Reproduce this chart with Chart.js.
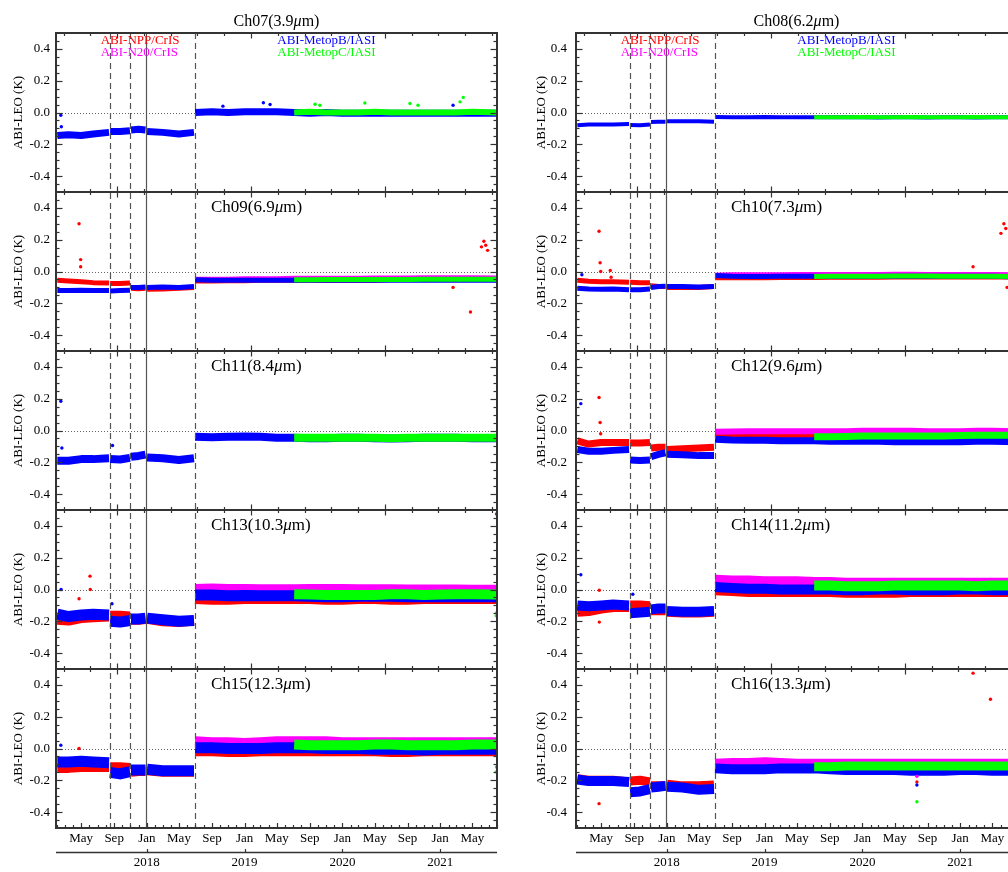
<!DOCTYPE html>
<html><head><meta charset="utf-8">
<script src="https://cdn.jsdelivr.net/npm/chart.js@4.4.1/dist/chart.umd.min.js"></script>
<style>
html,body{margin:0;padding:0;background:#fff;overflow:hidden;width:1008px;height:872px;}
canvas{position:absolute;top:0;}
#c0{left:0;}
#c1{left:520px;}
</style></head><body>
<canvas id="c0" width="510" height="872"></canvas>
<canvas id="c1" width="510" height="872"></canvas>
<script>
// ---------------- DATA ----------------
const AXIS_START = '2017-01-27', AXIS_END = '2021-08-01';
const DATES = ['2017-02-01','2017-03-15','2017-05-01','2017-06-15','2017-08-13','2017-08-15','2017-08-17','2017-09-23','2017-10-30','2017-11-01','2017-11-03','2017-12-01','2017-12-27','2017-12-30','2018-01-02','2018-03-01','2018-05-01','2018-06-26','2018-06-28','2018-06-30','2018-09-01','2018-11-01','2019-01-01','2019-03-01','2019-05-01','2019-07-05','2019-09-01','2019-11-01','2020-01-01','2020-03-01','2020-05-01','2020-07-01','2020-09-01','2020-11-01','2021-01-01','2021-03-01','2021-05-01','2021-07-31'];
const M_START = 19;   // ABI-N20/CrIS starts at DATES[19]
const G_START = 25;   // ABI-MetopC/IASI starts at DATES[25]
const EVENTS = [['2017-08-15','dash'],['2017-11-01','dash'],['2017-12-30','solid'],['2018-06-28','dash']];
const TOP_TICK_ANCHOR = '2017-09-12';
const MONTH_NAMES = ['Jan','Feb','Mar','Apr','May','Jun','Jul','Aug','Sep','Oct','Nov','Dec'];
const LABELED_MONTHS = ['May','Sep','Jan'];
const YEAR_LABELS = ['2018','2019','2020','2021'];
const Y_TICKS = [-0.4,-0.2,0.0,0.2,0.4];
const LEGEND = [['ABI-NPP/CrIS','R'],['ABI-N20/CrIS','M'],['ABI-MetopB/IASI','B'],['ABI-MetopC/IASI','G']];

// Ch07 (3.9um)
const CH07_B = [-0.145,-0.14,-0.145,-0.135,-0.125,null,-0.12,-0.12,-0.115,null,-0.11,-0.105,-0.11,null,-0.12,-0.125,-0.135,-0.125,null,0.0,0.005,0.0,0.005,0.005,0.005,0.0,-0.005,0.0,-0.005,-0.005,-0.005,-0.005,-0.005,-0.005,-0.005,-0.005,-0.005,-0.005];
const CH07_G = [0.0,0.005,0.0,0.0,0.0,0.005,0.0,0.0,0.0,0.0,0.0,0.005,0.0];
const CH07_OUT_B = [['2017-02-14',-0.017],['2017-02-16',-0.09],['2018-10-12',0.04],['2019-03-12',0.061],['2019-04-06',0.05],['2021-02-18',0.046]];
const CH07_OUT_G = [['2019-09-21',0.052],['2019-10-09',0.046],['2020-03-25',0.06],['2020-09-10',0.057],['2020-10-10',0.046],['2021-03-16',0.067],['2021-03-28',0.095]];

// Ch08 (6.2um)
const CH08_B = [-0.08,-0.075,-0.075,-0.075,-0.072,null,-0.078,-0.08,-0.075,null,-0.06,-0.058,-0.058,null,-0.055,-0.055,-0.055,-0.058,null,-0.028,-0.03,-0.03,-0.028,-0.03,-0.03,-0.03,-0.03,-0.03,-0.03,-0.032,-0.03,-0.03,-0.032,-0.03,-0.03,-0.032,-0.03,-0.03];
const CH08_G = [-0.03,-0.03,-0.03,-0.028,-0.03,-0.03,-0.028,-0.03,-0.03,-0.03,-0.028,-0.03,-0.03];

// Ch09 (6.9um)
const CH09_R = [-0.055,-0.06,-0.065,-0.07,-0.072,null,-0.075,-0.075,-0.072,null,-0.105,-0.108,-0.105,null,-0.112,-0.11,-0.105,-0.1,null,-0.06,-0.06,-0.058,-0.058,-0.055,-0.055,-0.055,-0.055,-0.055,-0.055,-0.055,-0.055,-0.05,-0.05,-0.05,-0.05,-0.05,-0.05,-0.05];
const CH09_M = [-0.045,-0.045,-0.045,-0.042,-0.042,-0.042,-0.04,-0.04,-0.04,-0.04,-0.04,-0.038,-0.038,-0.038,-0.036,-0.036,-0.036,-0.036,-0.038];
const CH09_B = [-0.12,-0.12,-0.118,-0.12,-0.12,null,-0.122,-0.12,-0.118,null,-0.1,-0.1,-0.098,null,-0.1,-0.098,-0.1,-0.095,null,-0.052,-0.055,-0.055,-0.055,-0.055,-0.055,-0.055,-0.055,-0.055,-0.055,-0.055,-0.055,-0.055,-0.055,-0.055,-0.055,-0.055,-0.055,-0.055];
const CH09_G = [-0.052,-0.052,-0.05,-0.05,-0.05,-0.05,-0.05,-0.05,-0.048,-0.048,-0.048,-0.048,-0.048];
const CH09_OUT_R = [['2017-04-23',0.30],['2017-04-29',0.075],['2017-04-29',0.03],['2021-02-18',-0.10],['2021-04-24',-0.255],['2021-06-04',0.155],['2021-06-13',0.19],['2021-06-20',0.165],['2021-06-27',0.133]];

// Ch10 (7.3um)
const CH10_R = [-0.055,-0.062,-0.065,-0.065,-0.068,null,-0.068,-0.07,-0.07,null,-0.09,-0.095,-0.095,null,-0.1,-0.1,-0.1,-0.095,null,-0.04,-0.038,-0.04,-0.04,-0.038,-0.038,-0.038,-0.036,-0.036,-0.036,-0.036,-0.035,-0.035,-0.035,-0.035,-0.035,-0.035,-0.035,-0.035];
const CH10_M = [-0.02,-0.018,-0.018,-0.018,-0.018,-0.016,-0.016,-0.016,-0.016,-0.015,-0.015,-0.014,-0.014,-0.015,-0.015,-0.015,-0.016,-0.016,-0.018];
const CH10_B = [-0.105,-0.11,-0.112,-0.11,-0.115,null,-0.115,-0.115,-0.11,null,-0.1,-0.095,-0.092,null,-0.095,-0.095,-0.098,-0.095,null,-0.025,-0.03,-0.032,-0.032,-0.03,-0.03,-0.03,-0.032,-0.032,-0.032,-0.03,-0.03,-0.03,-0.03,-0.03,-0.03,-0.03,-0.03,-0.035];
const CH10_G = [-0.032,-0.03,-0.03,-0.03,-0.03,-0.028,-0.028,-0.028,-0.03,-0.03,-0.03,-0.03,-0.032];
const CH10_OUT_R = [['2017-04-23',0.253],['2017-04-27',0.055],['2017-04-29',0.0],['2017-06-04',0.006],['2017-06-07',-0.036],['2021-02-18',0.03],['2021-06-02',0.24],['2021-06-13',0.30],['2021-06-20',0.27],['2021-06-25',-0.10]];
const CH10_OUT_B = [['2017-02-18',-0.02]];

// Ch11 (8.4um)
const CH11_B = [-0.19,-0.19,-0.18,-0.18,-0.175,null,-0.18,-0.182,-0.172,null,-0.165,-0.16,-0.152,null,-0.17,-0.175,-0.185,-0.175,null,-0.04,-0.042,-0.04,-0.038,-0.04,-0.045,-0.045,-0.048,-0.048,-0.045,-0.045,-0.048,-0.05,-0.048,-0.045,-0.045,-0.045,-0.048,-0.048];
const CH11_G = [-0.045,-0.045,-0.045,-0.045,-0.045,-0.045,-0.048,-0.045,-0.045,-0.045,-0.045,-0.045,-0.045];
const CH11_OUT_B = [['2017-02-14',0.184],['2017-02-18',-0.11],['2017-08-26',-0.094]];

// Ch12 (9.6um)
const CH12_R = [-0.065,-0.085,-0.075,-0.075,-0.075,null,-0.078,-0.078,-0.075,null,-0.11,-0.105,-0.105,null,-0.12,-0.115,-0.11,-0.105,null,-0.02,-0.025,-0.028,-0.028,-0.03,-0.03,-0.03,-0.03,-0.03,-0.03,-0.03,-0.03,-0.03,-0.03,-0.03,-0.03,-0.03,-0.03,-0.03];
const CH12_M = [-0.008,-0.006,-0.005,-0.005,-0.004,-0.004,-0.004,-0.004,-0.004,-0.002,-0.002,-0.002,-0.002,-0.004,-0.004,-0.004,-0.002,-0.002,-0.004];
const CH12_B = [-0.12,-0.13,-0.13,-0.125,-0.12,null,-0.185,-0.188,-0.185,null,-0.165,-0.15,-0.14,null,-0.15,-0.152,-0.158,-0.158,null,-0.055,-0.06,-0.062,-0.062,-0.065,-0.065,-0.065,-0.068,-0.068,-0.068,-0.068,-0.07,-0.07,-0.07,-0.07,-0.07,-0.068,-0.068,-0.07];
const CH12_G = [-0.04,-0.04,-0.038,-0.035,-0.035,-0.035,-0.035,-0.035,-0.035,-0.032,-0.03,-0.03,-0.03];
const CH12_OUT_R = [['2017-04-23',0.208],['2017-04-27',0.05],['2017-04-29',-0.02]];
const CH12_OUT_B = [['2017-02-14',0.169]];

// Ch13 (10.3um)
const CH13_R = [-0.19,-0.195,-0.18,-0.175,-0.17,null,-0.165,-0.165,-0.17,null,-0.19,-0.19,-0.185,null,-0.185,-0.2,-0.205,-0.195,null,-0.06,-0.065,-0.065,-0.06,-0.06,-0.06,-0.06,-0.06,-0.065,-0.065,-0.06,-0.06,-0.065,-0.065,-0.06,-0.06,-0.06,-0.06,-0.06];
const CH13_M = [0.01,0.012,0.01,0.01,0.008,0.008,0.008,0.01,0.01,0.01,0.008,0.008,0.008,0.006,0.006,0.006,0.006,0.005,0.005];
const CH13_B = [-0.155,-0.17,-0.16,-0.155,-0.16,null,-0.2,-0.205,-0.195,null,-0.185,-0.185,-0.18,null,-0.18,-0.19,-0.2,-0.195,null,-0.035,-0.035,-0.04,-0.038,-0.04,-0.04,-0.04,-0.042,-0.045,-0.045,-0.042,-0.042,-0.042,-0.045,-0.045,-0.045,-0.045,-0.045,-0.045];
const CH13_G = [-0.03,-0.032,-0.035,-0.035,-0.035,-0.035,-0.03,-0.03,-0.035,-0.032,-0.03,-0.03,-0.032];
const CH13_OUT_R = [['2017-06-03',0.084],['2017-06-04',0.0],['2017-04-23',-0.058],['2021-07-30',0.475]];
const CH13_OUT_B = [['2017-02-15',0.0],['2017-08-24',-0.09]];
const CH13_OUT_G = [['2021-07-30',-0.147],['2021-07-29',-0.165]];

// Ch14 (11.2um)
const CH14_R = [-0.14,-0.135,-0.12,-0.11,-0.11,null,-0.1,-0.1,-0.105,null,-0.13,-0.13,-0.13,null,-0.14,-0.145,-0.145,-0.14,null,-0.005,-0.01,-0.015,-0.015,-0.015,-0.015,-0.015,-0.015,-0.02,-0.02,-0.02,-0.02,-0.015,-0.015,-0.015,-0.015,-0.015,-0.015,-0.015];
const CH14_M = [0.065,0.06,0.06,0.055,0.055,0.055,0.05,0.05,0.045,0.045,0.045,0.045,0.045,0.045,0.045,0.045,0.045,0.045,0.045];
const CH14_B = [-0.1,-0.105,-0.1,-0.095,-0.1,null,-0.15,-0.145,-0.14,null,-0.125,-0.12,-0.12,null,-0.135,-0.14,-0.14,-0.135,null,0.015,0.01,0.005,0.005,0.0,0.0,0.0,0.0,-0.005,-0.005,0.0,0.0,-0.005,-0.005,-0.005,0.0,0.0,-0.005,-0.005];
const CH14_G = [0.025,0.025,0.02,0.02,0.02,0.025,0.025,0.025,0.025,0.025,0.02,0.025,0.025];
const CH14_OUT_R = [['2017-04-24',-0.005],['2017-04-24',-0.205]];
const CH14_OUT_B = [['2017-02-14',0.093],['2017-08-27',-0.03]];

// Ch15 (12.3um)
const CH15_R = [-0.125,-0.125,-0.12,-0.12,-0.12,null,-0.115,-0.115,-0.12,null,-0.15,-0.145,-0.145,null,-0.14,-0.15,-0.15,-0.15,null,-0.02,-0.02,-0.025,-0.025,-0.02,-0.02,-0.02,-0.02,-0.02,-0.02,-0.02,-0.02,-0.025,-0.025,-0.02,-0.02,-0.02,-0.02,-0.02];
const CH15_M = [0.045,0.04,0.04,0.035,0.04,0.045,0.045,0.045,0.045,0.04,0.04,0.04,0.04,0.04,0.04,0.04,0.04,0.04,0.04];
const CH15_B = [-0.085,-0.085,-0.08,-0.085,-0.09,null,-0.15,-0.16,-0.145,null,-0.135,-0.135,-0.135,null,-0.13,-0.14,-0.14,-0.14,null,0.005,0.005,0.0,0.0,0.0,0.005,0.005,0.005,0.0,0.0,0.0,-0.005,-0.005,-0.005,-0.01,-0.005,-0.005,-0.005,-0.005];
const CH15_G = [0.025,0.02,0.02,0.02,0.02,0.025,0.025,0.02,0.02,0.02,0.02,0.025,0.025];
const CH15_OUT_R = [['2017-04-23',0.0]];
const CH15_OUT_B = [['2017-02-14',0.02]];
const CH15_OUT_G = [['2021-07-30',-0.116],['2021-07-29',-0.148]];

// Ch16 (13.3um)
const CH16_R = [-0.19,-0.2,-0.2,-0.2,-0.21,null,-0.205,-0.2,-0.21,null,-0.235,-0.235,-0.235,null,-0.225,-0.235,-0.235,-0.23,null,-0.115,-0.12,-0.12,-0.12,-0.12,-0.12,-0.12,-0.12,-0.12,-0.12,-0.12,-0.12,-0.12,-0.12,-0.12,-0.12,-0.12,-0.12,-0.12];
const CH16_M = [-0.09,-0.085,-0.085,-0.08,-0.085,-0.09,-0.09,-0.09,-0.09,-0.09,-0.09,-0.09,-0.09,-0.09,-0.09,-0.09,-0.09,-0.09,-0.09];
const CH16_B = [-0.195,-0.205,-0.205,-0.205,-0.21,null,-0.275,-0.27,-0.255,null,-0.245,-0.24,-0.235,null,-0.24,-0.245,-0.26,-0.255,null,-0.125,-0.13,-0.13,-0.13,-0.125,-0.125,-0.125,-0.13,-0.135,-0.135,-0.135,-0.135,-0.14,-0.14,-0.14,-0.135,-0.135,-0.14,-0.14];
const CH16_G = [-0.115,-0.115,-0.11,-0.11,-0.11,-0.11,-0.11,-0.11,-0.11,-0.11,-0.11,-0.11,-0.11];
const CH16_OUT_R = [['2017-04-23',-0.347],['2021-02-18',0.474],['2021-04-24',0.31],['2020-07-23',-0.21]];
const CH16_OUT_M = [['2020-07-23',-0.175]];
const CH16_OUT_B = [['2020-07-23',-0.23]];
const CH16_OUT_G = [['2020-07-23',-0.335]];

// ---------------- PANELS (structure + style) ----------------
const COLUMNS = [
  [ {title:'Ch07(3.9μm)', B:CH07_B, G:CH07_G, oB:CH07_OUT_B, oG:CH07_OUT_G, w:{B:7,G:6}},
    {title:'Ch09(6.9μm)', R:CH09_R, M:CH09_M, B:CH09_B, G:CH09_G, oR:CH09_OUT_R, w:{R:5,M:4,B:5,G:5}},
    {title:'Ch11(8.4μm)', B:CH11_B, G:CH11_G, oB:CH11_OUT_B, w:{B:8,G:8}},
    {title:'Ch13(10.3μm)', R:CH13_R, M:CH13_M, B:CH13_B, G:CH13_G, oR:CH13_OUT_R, oB:CH13_OUT_B, oG:CH13_OUT_G, w:{R:10,M:8,B:11,G:10}},
    {title:'Ch15(12.3μm)', R:CH15_R, M:CH15_M, B:CH15_B, G:CH15_G, oR:CH15_OUT_R, oB:CH15_OUT_B, oG:CH15_OUT_G, w:{R:9,M:10,B:11,G:10}} ],
  [ {title:'Ch08(6.2μm)', B:CH08_B, G:CH08_G, w:{B:4,G:4}},
    {title:'Ch10(7.3μm)', R:CH10_R, M:CH10_M, B:CH10_B, G:CH10_G, oR:CH10_OUT_R, oB:CH10_OUT_B, w:{R:5,M:4,B:5,G:5}},
    {title:'Ch12(9.6μm)', R:CH12_R, M:CH12_M, B:CH12_B, G:CH12_G, oR:CH12_OUT_R, oB:CH12_OUT_B, w:{R:7,M:6,B:7,G:7}},
    {title:'Ch14(11.2μm)', R:CH14_R, M:CH14_M, B:CH14_B, G:CH14_G, oR:CH14_OUT_R, oB:CH14_OUT_B, w:{R:10,M:9,B:10,G:10}},
    {title:'Ch16(13.3μm)', R:CH16_R, M:CH16_M, B:CH16_B, G:CH16_G, oR:CH16_OUT_R, oM:CH16_OUT_M, oB:CH16_OUT_B, oG:CH16_OUT_G, w:{R:9,M:8,B:10,G:9}} ]
];

// ---------------- HELPERS ----------------
const SERIF = "'Liberation Serif','Times New Roman',serif";
const COLORS = {R:'#ff0000', M:'#ff00ff', B:'#0000ff', G:'#00ff00'};
const START = {R:0, B:0, M:M_START, G:G_START};
function yr(s){const [Y,M,D]=s.split('-').map(Number);const a=Date.UTC(Y,0,1),b=Date.UTC(Y+1,0,1);return Y+(Date.UTC(Y,M-1,D)-a)/(b-a);}
const XMIN = yr(AXIS_START), XMAX = yr(AXIS_END);
function pts(vals,start){return vals.map((v,i)=>({x:yr(DATES[start+i]),y:v}));}
function outPts(list){return list.map(([d,v])=>({x:yr(d),y:v}));}

// month ticks (first of each month) and year ticks
const MONTH_TICKS = [];
for(let y=2017;y<=2021;y++)for(let m=0;m<12;m++){
  const s=`${y}-${String(m+1).padStart(2,'0')}-01`; const v=yr(s);
  if(v>=XMIN&&v<=XMAX) MONTH_TICKS.push({value:v,label:LABELED_MONTHS.includes(MONTH_NAMES[m])?MONTH_NAMES[m]:''});
}
const YEAR_TICKS = YEAR_LABELS.map(l=>({value:yr(l+'-01-01'),label:l}));
const TOP_TICKS = [];
{const a=yr(TOP_TICK_ANCHOR); for(let k=-5;k<=20;k++){const v=a+k*100/365.25; if(v>XMIN&&v<XMAX) TOP_TICKS.push({value:v,major:k%5===0});}}

function line(ctx,x1,y1,x2,y2){ctx.beginPath();ctx.moveTo(x1,y1);ctx.lineTo(x2,y2);ctx.stroke();}
function drawTitle(ctx,text,x,y,size,align){
  const [a,b]=text.split('μ'); const f=`${size}px ${SERIF}`, fi=`italic ${size}px ${SERIF}`;
  ctx.font=f; const wa=ctx.measureText(a).width, wb=ctx.measureText(b).width;
  ctx.font=fi; const wm=ctx.measureText('μ').width;
  const x0 = align==='center' ? x-(wa+wm+wb)/2 : x;
  ctx.textAlign='left'; ctx.textBaseline='alphabetic'; ctx.fillStyle='#000';
  ctx.font=f; ctx.fillText(a,x0,y); ctx.font=fi; ctx.fillText('μ',x0+wa,y); ctx.font=f; ctx.fillText(b,x0+wa+wm,y);
}

function makeDeco(panels){
  return {
    id:'deco',
    beforeDatasetsDraw(chart){
      const ctx=chart.ctx, xs=chart.scales.x;
      ctx.save();
      ctx.strokeStyle='#666'; ctx.lineWidth=1; ctx.setLineDash([1,2]);
      panels.forEach((p,i)=>{const s=chart.scales['y'+i]; const y=Math.round(s.getPixelForValue(0))+0.5; line(ctx,xs.left,y,xs.right,y);});
      ctx.restore();
    },
    afterDatasetsDraw(chart){
      const ctx=chart.ctx, xs=chart.scales.x, n=panels.length;
      const ys=panels.map((p,i)=>chart.scales['y'+i]);
      const top=ys[0].top, bot=ys[n-1].bottom;
      ctx.save();
      // event lines
      EVENTS.forEach(([d,k])=>{
        const x=Math.round(xs.getPixelForValue(yr(d)))+0.5;
        ctx.strokeStyle='#555'; ctx.lineWidth=1.2; ctx.setLineDash(k==='dash'?[6,4]:[]);
        line(ctx,x,top,x,bot);
      });
      ctx.setLineDash([]);
      // ticks
      ctx.strokeStyle='#333'; ctx.lineWidth=1.2;
      ys.forEach((s,i)=>{
        const L=xs.left,R=xs.right,T=s.top,B=s.bottom;
        for(let k=-9;k<=9;k++){
          const y=Math.round(s.getPixelForValue(k*0.05))+0.5, len=(k%4===0)?6.5:3.5;
          line(ctx,L,y,L+len,y); line(ctx,R,y,R-len,y);
        }
        TOP_TICKS.forEach(t=>{const x=Math.round(xs.getPixelForValue(t.value))+0.5, len=t.major?5.5:3; line(ctx,x,T,x,T+len); if(i<n-1) line(ctx,x,B,x,B-len);});
        if(i===n-1) MONTH_TICKS.forEach(t=>{const x=Math.round(xs.getPixelForValue(t.value))+0.5, len=t.label?5:3; line(ctx,x,B,x,B-len);});
      });
      // borders
      ctx.lineWidth=2; ctx.strokeStyle='#333';
      ys.forEach(s=>{ctx.strokeRect(xs.left,s.top,xs.right-xs.left,s.bottom-s.top);});
      // year axis
      const x2=chart.scales.x2, yb=Math.round(x2.top)+0.5;
      ctx.lineWidth=1.5; line(ctx,xs.left,yb,xs.right,yb);
      ctx.lineWidth=1.2; YEAR_TICKS.forEach(t=>{const x=Math.round(xs.getPixelForValue(t.value))+0.5; line(ctx,x,yb,x,yb-3.5);});
      // titles
      drawTitle(ctx,panels[0].title,(xs.left+xs.right)/2,25.5,16,'center');
      for(let i=1;i<n;i++) drawTitle(ctx,panels[i].title,xs.left+155,ys[i].top+19.7,17,'left');
      // legend text
      ctx.font=`13px ${SERIF}`; ctx.textAlign='left'; ctx.textBaseline='alphabetic';
      const lx=[xs.left+44.7,xs.left+44.7,xs.left+221.3,xs.left+221.3], ly=[44.3,55.8,44.3,55.8];
      LEGEND.forEach(([t,k],j)=>{ctx.fillStyle=COLORS[k]; ctx.fillText(t,lx[j],ly[j]);});
      ctx.restore();
    }
  };
}

function makeColumn(id, panels, tickPad, titlePad){
  const datasets=[];
  panels.forEach((p,i)=>{
    const yid='y'+i;
    ['G','B','M','R'].forEach(k=>{ const o=p['o'+k]; if(o) datasets.push({data:outPts(o),yAxisID:yid,showLine:false,pointRadius:1.7,pointBorderWidth:0,pointBackgroundColor:COLORS[k]}); });
    ['G','B','M','R'].forEach(k=>{ if(p[k]) datasets.push({data:pts(p[k],START[k]),yAxisID:yid,showLine:true,spanGaps:false,borderColor:COLORS[k],borderWidth:p.w[k],borderCapStyle:'butt',borderJoinStyle:'round',pointRadius:0,pointHoverRadius:0,fill:false}); });
  });
  const font={family:SERIF,size:13};
  const scales={
    x:{type:'linear',position:'bottom',weight:0,min:XMIN,max:XMAX,grid:{display:false,drawTicks:false},border:{display:false},
       afterBuildTicks:s=>{s.ticks=MONTH_TICKS.map(t=>({value:t.value}));},
       afterFit:s=>{s.height=24;},
       ticks:{autoSkip:false,maxRotation:0,minRotation:0,padding:3,font,color:'#000',callback:(v)=>{const t=MONTH_TICKS.find(m=>Math.abs(m.value-v)<1e-6);return t?t.label:'';}}},
    x2:{type:'linear',axis:'x',position:'bottom',weight:1,min:XMIN,max:XMAX,grid:{display:false,drawTicks:false},border:{display:false},
       afterBuildTicks:s=>{s.ticks=YEAR_TICKS.map(t=>({value:t.value}));},
       afterFit:s=>{s.height=20;},
       ticks:{autoSkip:false,maxRotation:0,minRotation:0,padding:3,font,color:'#000',callback:(v)=>{const t=YEAR_TICKS.find(m=>Math.abs(m.value-v)<1e-6);return t?t.label:'';}}}
  };
  panels.forEach((p,i)=>{
    scales['y'+i]={type:'linear',axis:'y',position:'left',stack:'col',stackWeight:1,weight:10-i,min:-0.5,max:0.5,
      grid:{display:false,drawTicks:false},border:{display:false},
      afterBuildTicks:s=>{s.ticks=Y_TICKS.map(v=>({value:v}));},
      afterFit:s=>{s.width=56;},
      ticks:{padding:tickPad,font,color:'#000',callback:v=>Number(v).toFixed(1)},
      title:{display:true,text:'ABI-LEO (K)',font,color:'#000',padding:{top:titlePad,bottom:0}}};
  });
  new Chart(document.getElementById(id),{
    type:'scatter',
    data:{datasets},
    options:{responsive:false,animation:false,events:[],
      layout:{padding:{top:33,left:0,right:13,bottom:0}},
      plugins:{legend:{display:false},tooltip:{enabled:false},title:{display:false}},
      scales},
    plugins:[makeDeco(panels)]
  });
}

makeColumn('c0',COLUMNS[0],6,11.2);
makeColumn('c1',COLUMNS[1],9,13.9);
</script></body></html>
